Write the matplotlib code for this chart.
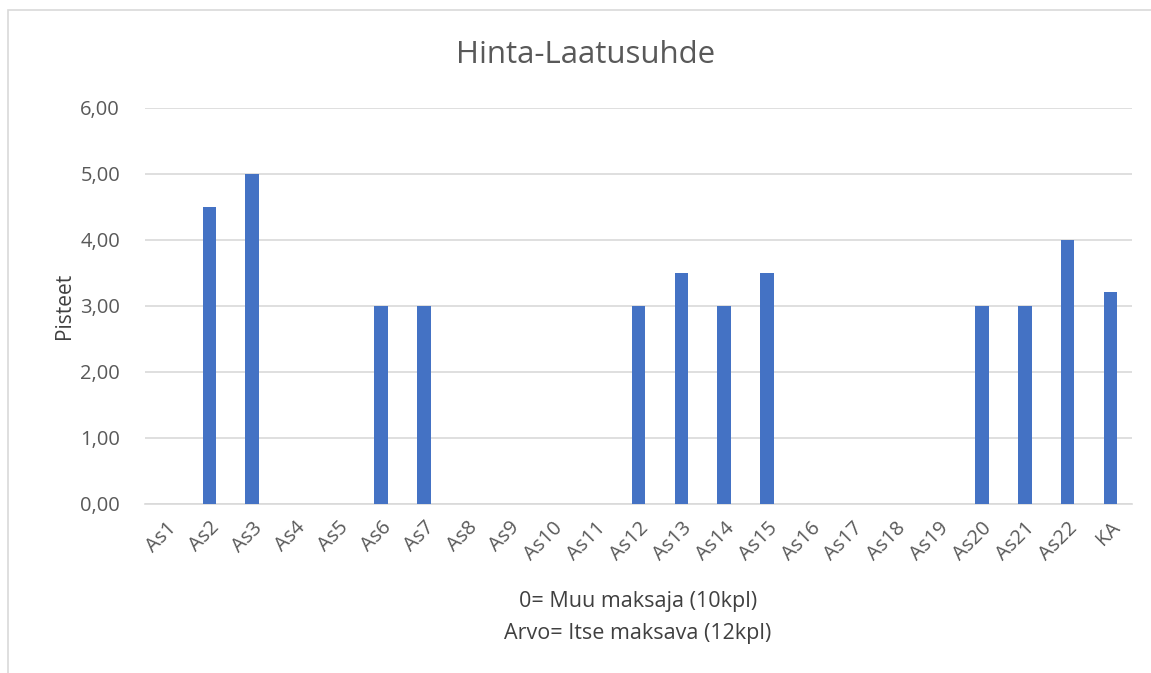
import matplotlib
matplotlib.use("Agg")
import matplotlib.pyplot as plt
from matplotlib.patches import Rectangle

# Categories and scores
categories = ["As1", "As2", "As3", "As4", "As5", "As6", "As7", "As8", "As9", "As10",
              "As11", "As12", "As13", "As14", "As15", "As16", "As17", "As18", "As19",
              "As20", "As21", "As22", "KA"]
scores = [0, 4.5, 5.0, 0, 0, 3.0, 3.0, 0, 0, 0,
          0, 3.0, 3.5, 3.0, 3.5, 0, 0, 0, 0,
          3.0, 3.0, 4.0, 3.21]
y_ticks = [0, 1, 2, 3, 4, 5, 6]

plt.rcParams['font.family'] = ['Open Sans', 'DejaVu Sans']
text_color = "#595959"

fig = plt.figure(figsize=(11.51, 6.73), dpi=100)
ax = fig.add_axes([145 / 1151, 1 - 504 / 673, (1132 - 145) / 1151, (504 - 108) / 673])

# Chart border (left and top visible)
fig.add_artist(Rectangle((8 / 1151, -0.1), 1.2, 1 - 10 / 673 + 0.1,
                         transform=fig.transFigure, fill=False,
                         edgecolor="#D9D9D9", linewidth=1.2))

x = range(len(categories))
ax.bar(x, scores, width=0.32, color="#4472C4", zorder=3)

ax.set_xlim(-0.5, len(categories) - 0.5)
ax.set_ylim(0, 6)
ax.set_yticks(y_ticks)
ax.set_yticklabels([f"{v:.2f}".replace(".", ",") for v in y_ticks])
ax.set_xticks(list(x))
ax.set_xticklabels(categories, rotation=45, ha="right", va="top",
                   rotation_mode="anchor")

ax.grid(axis="y", color="#D9D9D9", linewidth=1.2, zorder=0)
for s in ["top", "right", "left"]:
    ax.spines[s].set_visible(False)
ax.spines["bottom"].set_color("#D9D9D9")
ax.spines["bottom"].set_linewidth(1.2)
ax.tick_params(axis="both", length=0, labelsize=14.5, colors=text_color)
ax.tick_params(axis="y", pad=18)
ax.tick_params(axis="x", pad=10)

ax.set_ylabel("Pisteet", fontsize=15, color="#404040", labelpad=4)
fig.text(586 / 1151, 1 - 55 / 673, "Hinta-Laatusuhde", ha="center", va="center",
         fontsize=22.5, color=text_color)
fig.text(638 / 1151, 1 - 601 / 673, "0= Muu maksaja (10kpl)", ha="center",
         va="center", fontsize=15.5, color="#404040")
fig.text(638 / 1151, 1 - 633 / 673, "Arvo= Itse maksava (12kpl)", ha="center",
         va="center", fontsize=15.5, color="#404040")

plt.savefig("out.png", dpi=100)
plt.close()
